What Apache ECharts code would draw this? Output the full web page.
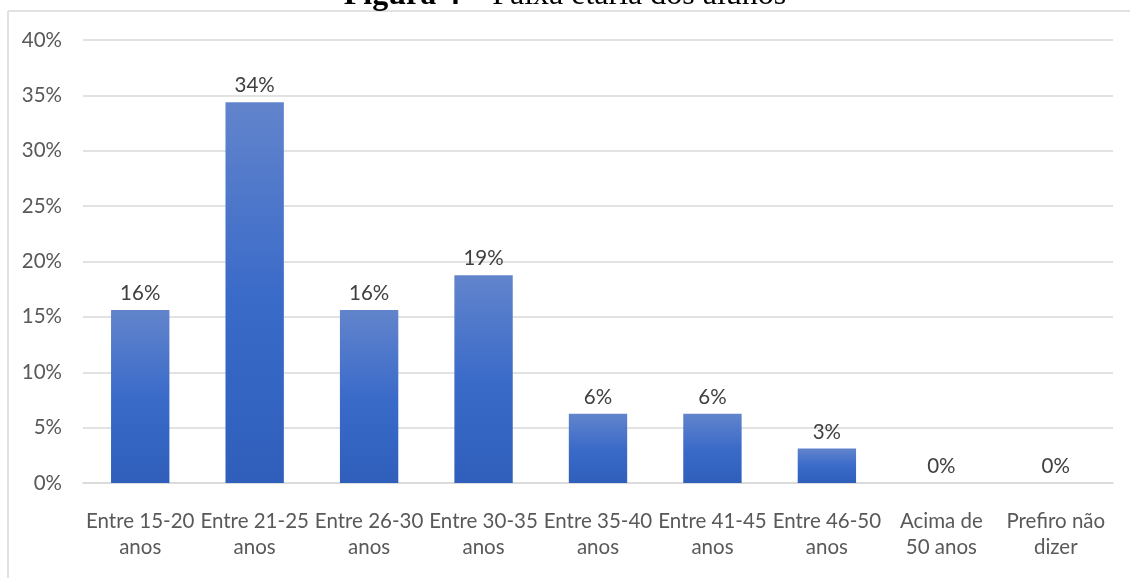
<!DOCTYPE html>
<html>
<head>
<meta charset="utf-8">
<script src="https://cdn.jsdelivr.net/npm/echarts@6/dist/echarts.min.js"></script>
<style>
html,body{margin:0;padding:0;background:#fff;}
#chart{width:1130px;height:578px;}
</style>
</head>
<body>
<div id="chart"></div>
<script>
const categories = ['Entre 15-20\nanos','Entre 21-25\nanos','Entre 26-30\nanos','Entre 30-35\nanos','Entre 35-40\nanos','Entre 41-45\nanos','Entre 46-50\nanos','Acima de\n50 anos','Prefiro não\ndizer'];
const values = [15.625, 34.375, 15.625, 18.75, 6.25, 6.25, 3.125, 0, 0];
const yTicks = [0, 5, 10, 15, 20, 25, 30, 35, 40];
const titleBold = 'Figura 4';
const titleRest = ' – Faixa etária dos alunos';

const chart = echarts.init(document.getElementById('chart'));
const font = 'Lato, "Open Sans", sans-serif';
chart.setOption({
  animation: false,
  grid: {left: 83, right: 17, top: 40, bottom: 95},
  xAxis: {
    type: 'category',
    data: categories,
    axisLine: {lineStyle: {color: '#d9d9d9', width: 1.5}},
    axisTick: {show: false},
    axisLabel: {interval: 0, color: '#595959', fontSize: 20.5, fontFamily: font, lineHeight: 26, margin: 25}
  },
  yAxis: {
    type: 'value',
    min: yTicks[0], max: yTicks[yTicks.length - 1], interval: 5,
    axisLine: {show: false},
    axisTick: {show: false},
    splitLine: {lineStyle: {color: '#d9d9d9', width: 1.5}},
    axisLabel: {formatter: '{value}%', color: '#595959', fontSize: 20.5, fontFamily: font, margin: 21}
  },
  series: [{
    type: 'bar',
    data: values,
    barWidth: '51%',
    itemStyle: {
      color: new echarts.graphic.LinearGradient(0, 0, 0, 1, [
        {offset: 0, color: '#6284cc'},
        {offset: 0.5, color: '#3b6bc9'},
        {offset: 1, color: '#2f5fbb'}
      ])
    },
    label: {
      show: true, position: 'top', distance: 6,
      color: '#404040', fontSize: 20.5, fontFamily: font,
      formatter: p => Math.round(p.value) + '%'
    }
  }],
  graphic: [
    {type: 'line', shape: {x1: 8, y1: 11, x2: 1130, y2: 11}, style: {stroke: '#d9d9d9', lineWidth: 1.5}, silent: true},
    {type: 'line', shape: {x1: 8, y1: 11, x2: 8, y2: 578}, style: {stroke: '#d9d9d9', lineWidth: 1.5}, silent: true},
    {type: 'text', left: 'center', top: -20, z: 10,
      style: {
        text: '{b|' + titleBold + '}' + titleRest,
        font: '32px "Liberation Serif", "Times New Roman", serif',
        fill: '#000',
        rich: {b: {fontWeight: 'bold', fontSize: 32, fontFamily: '"Liberation Serif", serif', fill: '#000'}}
      }
    }
  ]
});
</script>
</body>
</html>
